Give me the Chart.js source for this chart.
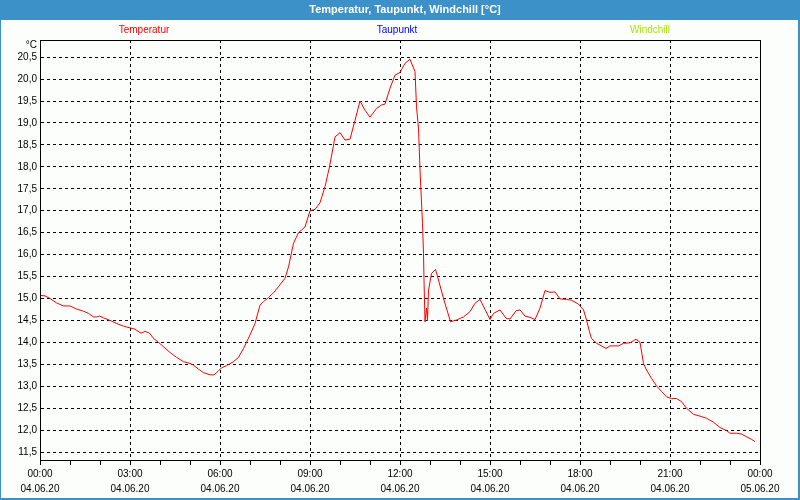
<!DOCTYPE html>
<html><head><meta charset="utf-8">
<script src="https://cdn.jsdelivr.net/npm/chart.js@4/dist/chart.umd.min.js"></script>
<style>html,body{margin:0;padding:0;background:#fff;}canvas{display:block;}</style>
</head><body>
<canvas id="c" width="800" height="500"></canvas>
<script>
const titleText = 'Temperatur, Taupunkt, Windchill [°C]';
const seriesNames = ['Temperatur', 'Taupunkt', 'Windchill'];
const seriesColors = ['#ff0000', '#0000ff', '#a8e600'];
const unitLabel = '°C';
const dayLabels = ['04.06.20', '05.06.20'];
// time of each sample, minutes after 04.06.20 00:00
const timesMin = [0,10,20,33,47,60,73,87,97,107,113,119,127,140,153,167,180,190,202,210,219,227,237,247,260,273,287,300,307,317,327,340,348,357,363,373,387,397,407,420,430,440,447,457,467,477,490,497,507,517,530,540,550,560,570,579,590,600,610,620,630,640,650,660,673,683,690,700,710,720,730,740,750,753,757,760,765,767,768,770,773,775,777,783,791,797,807,821,833,847,860,870,880,890,900,907,920,932,940,952,960,970,980,990,1000,1010,1020,1030,1040,1053,1063,1077,1087,1093,1099,1103,1113,1123,1132,1140,1157,1167,1180,1187,1192,1200,1207,1213,1223,1233,1243,1253,1263,1273,1283,1293,1307,1320,1333,1347,1360,1373,1380,1393,1403,1413,1423,1430];
const temperatur = [15.07,15.06,15.00,14.90,14.83,14.83,14.76,14.71,14.66,14.58,14.58,14.60,14.56,14.50,14.43,14.37,14.33,14.30,14.21,14.25,14.21,14.09,14.00,13.90,13.77,13.66,13.56,13.52,13.48,13.39,13.31,13.26,13.26,13.35,13.42,13.47,13.56,13.66,13.86,14.17,14.43,14.85,14.93,15.02,15.13,15.27,15.46,15.72,16.26,16.50,16.63,17.00,17.03,17.18,17.55,18.00,18.68,18.78,18.61,18.63,19.06,19.50,19.29,19.13,19.33,19.41,19.43,19.79,20.09,20.15,20.36,20.45,20.17,19.37,18.88,17.93,16.71,16.03,15.42,14.47,14.78,14.50,15.19,15.57,15.66,15.42,15.00,14.47,14.51,14.58,14.70,14.89,14.98,14.75,14.52,14.66,14.74,14.55,14.53,14.72,14.74,14.60,14.57,14.52,14.78,15.18,15.14,15.15,14.99,14.98,14.96,14.87,14.74,14.51,14.24,14.09,13.98,13.92,13.86,13.92,13.92,13.98,13.99,14.04,14.07,14.00,13.52,13.37,13.18,13.01,12.88,12.76,12.72,12.72,12.65,12.50,12.36,12.32,12.27,12.18,12.06,11.99,11.93,11.93,11.91,11.85,11.79,11.74];
const yMin = 11.32, yMax = 20.89, yStep = 0.5;
const xMaxHours = 24, xLabelStep = 3;

const points = timesMin.map((m, i) => ({x: m / 60, y: temperatur[i]}));
const pad2 = n => String(n).padStart(2, '0');
const FONT = 'Liberation Sans';

const framePlugin = {
  id: 'frame',
  beforeDraw(chart) {
    const c = chart.ctx, W = chart.width, H = chart.height;
    c.save();
    c.fillStyle = '#fcfefc';
    c.fillRect(0, 0, W, H);
    c.fillStyle = '#3c92c8';
    c.fillRect(0, 0, W, 20);
    c.fillStyle = '#ffffff';
    c.font = 'bold 11px ' + FONT;
    c.textAlign = 'center';
    c.textBaseline = 'middle';
    c.fillText(titleText, 405, 10);
    c.font = '10px ' + FONT;
    const lx = [144, 397, 650];
    seriesNames.forEach((n, i) => { c.fillStyle = seriesColors[i]; c.fillText(n, lx[i], 30); });
    c.fillStyle = '#000';
    c.textAlign = 'right';
    c.fillText(unitLabel, 37, 45);
    c.restore();
  },
  afterDraw(chart) {
    const c = chart.ctx, a = chart.chartArea, W = chart.width, H = chart.height;
    c.save();
    c.strokeStyle = '#000';
    c.lineWidth = 1;
    c.strokeRect(Math.round(a.left) + 0.5, Math.round(a.top) + 0.5, Math.round(a.right - a.left), Math.round(a.bottom - a.top));
    c.fillStyle = '#3c92c8';
    c.fillRect(0, 0, 1, H);
    c.fillRect(W - 2, 0, 2, H);
    c.fillRect(0, H - 2, W, 2);
    c.restore();
  }
};

new Chart(document.getElementById('c'), {
  type: 'line',
  data: {datasets: [{label: seriesNames[0], data: points, borderColor: seriesColors[0], borderWidth: 1, pointRadius: 0, tension: 0, fill: false}]},
  options: {
    responsive: false, animation: false, devicePixelRatio: 1,
    layout: {padding: {top: 40, right: 40, left: 0, bottom: 0}},
    plugins: {legend: {display: false}, title: {display: false}, tooltip: {enabled: false}},
    scales: {
      x: {
        type: 'linear', min: 0, max: xMaxHours,
        afterFit(s) { s.height = 40; },
        ticks: {
          stepSize: 1, autoSkip: false, maxRotation: 0, padding: 2, color: '#000',
          font: {family: FONT, size: 10, lineHeight: 1.5},
          callback(v) {
            if (v % xLabelStep !== 0) return '';
            const h = v % 24;
            return [pad2(h) + ':00', v >= 24 ? dayLabels[1] : dayLabels[0]];
          }
        },
        grid: {
          color: ctx => (ctx.tick && ctx.tick.value % xLabelStep === 0) ? '#000' : 'rgba(0,0,0,0)',
          tickColor: '#000', tickLength: 5, lineWidth: 1
        },
        border: {display: true, color: '#000', dash: [3, 3]}
      },
      y: {
        min: yMin, max: yMax,
        afterFit(s) { s.width = 40; },
        afterBuildTicks(s) {
          const t = [];
          for (let v = Math.ceil(yMin / yStep) * yStep; v <= yMax + 1e-9; v += yStep) t.push({value: +v.toFixed(2)});
          s.ticks = t;
        },
        ticks: {
          padding: 3, color: '#000', font: {family: FONT, size: 10},
          callback: v => v.toFixed(1).replace('.', ',')
        },
        grid: {color: '#000', drawTicks: false, lineWidth: 1},
        border: {display: true, color: '#000', dash: [3, 3]}
      }
    }
  },
  plugins: [framePlugin]
});
</script>
</body></html>
